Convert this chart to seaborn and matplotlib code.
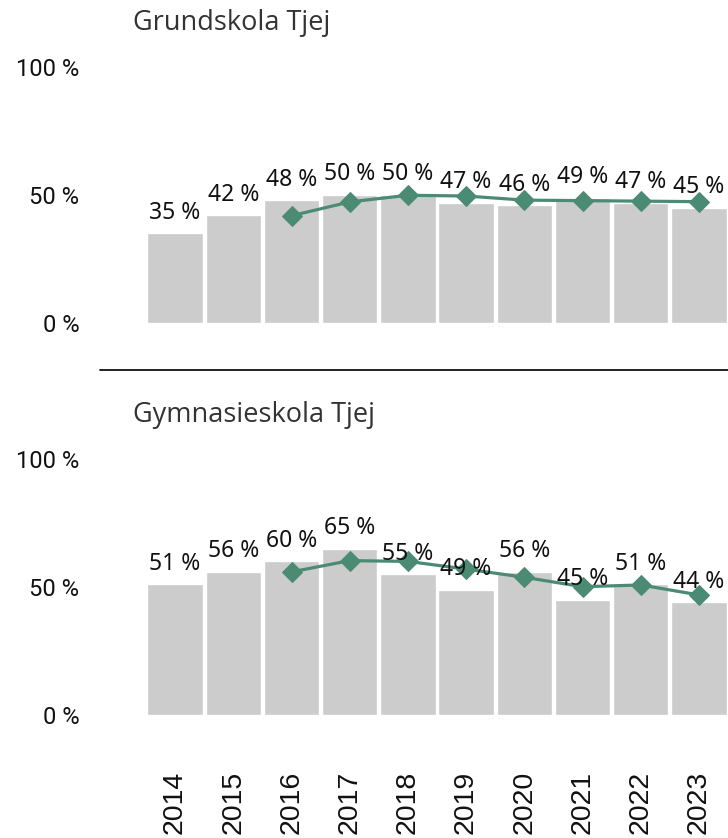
import numpy as np
import pandas as pd
import matplotlib
matplotlib.use("Agg")
import matplotlib.pyplot as plt
import seaborn as sns
from matplotlib.lines import Line2D

# data
years = [2014, 2015, 2016, 2017, 2018, 2019, 2020, 2021, 2022, 2023]
trend_years = [2016, 2017, 2018, 2019, 2020, 2021, 2022, 2023]

grund_values = [35, 42, 48, 50, 50, 47, 46, 49, 47, 45]
grund_trend = [41.9, 47.3, 49.9, 49.6, 48.0, 47.8, 47.6, 47.4]

gymn_values = [51, 56, 60, 65, 55, 49, 56, 45, 51, 44]
gymn_trend = [55.9, 60.3, 60.0, 57.0, 53.8, 50.1, 50.8, 46.9]

titles = ["Grundskola Tjej", "Gymnasieskola Tjej"]

BAR_COLOR = "#cccccc"
LINE_COLOR = "#4b8b73"
W, H = 728, 838

sns.set_theme(style="white")
plt.rcParams["font.family"] = ["Roboto", "DejaVu Sans"]

fig = plt.figure(figsize=(W / 100, H / 100), dpi=100)


def draw_panel(ax, values, trend, show_years):
    df = pd.DataFrame({"year": years, "value": values})
    sns.barplot(data=df, x="year", y="value", native_scale=True,
                color=BAR_COLOR, width=0.95, saturation=1, ax=ax)
    tdf = pd.DataFrame({"year": trend_years, "value": trend})
    sns.lineplot(data=tdf, x="year", y="value", color=LINE_COLOR, lw=2.3,
                 marker="D", markersize=10, markeredgecolor=LINE_COLOR, ax=ax)
    for x, v in zip(years, values):
        ax.annotate(f"{v} %", (x, v), xytext=(0, 10.5), textcoords="offset points",
                    ha="center", va="baseline", fontsize=16.5,
                    family=["Noto Sans", "DejaVu Sans"], color="#111111")
    ax.set_xlim(2013.5, 2023.5)
    ax.set_ylim(0, 100)
    ax.set_yticks([0, 50, 100])
    ax.set_yticklabels(["0 %", "50 %", "100 %"], fontsize=17, color="#111111")
    ax.tick_params(axis="y", length=0, pad=48)
    for s in ax.spines.values():
        s.set_visible(False)
    ax.set_xlabel("")
    ax.set_ylabel("")
    if show_years:
        ax.set_xticks(years)
        ax.set_xticklabels([str(y) for y in years], rotation=90, fontsize=20.5,
                           family=["Liberation Sans", "DejaVu Sans"], color="#111111")
        ax.tick_params(axis="x", length=0, pad=40)
    else:
        ax.set_xticks([])


left = 146 / W
width = 1 - left
ax1 = fig.add_axes([left, (H - 323) / H, width, 256 / H])
ax2 = fig.add_axes([left, (H - 715) / H, width, 256 / H])

draw_panel(ax1, grund_values, grund_trend, False)
draw_panel(ax2, gymn_values, gymn_trend, True)

title_font = ["Open Sans", "DejaVu Sans"]
fig.text(133 / W, 1 - 30 / H, titles[0], fontsize=19.5, color="#333333",
         va="baseline", family=title_font)
fig.text(133 / W, 1 - 422 / H, titles[1], fontsize=19.5, color="#333333",
         va="baseline", family=title_font)

# separator between the two panels
fig.add_artist(Line2D([100 / W, 1], [1 - 370 / H, 1 - 370 / H], color="#111111", lw=1.3))

fig.savefig("out.png", dpi=100)
